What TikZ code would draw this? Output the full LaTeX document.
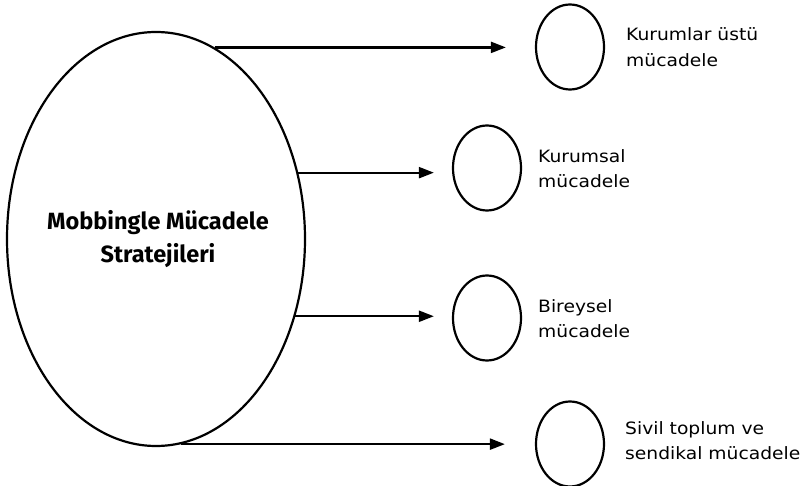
\documentclass[tikz,border=0pt]{standalone}
\usepackage{fontspec}
\setmainfont{Fira Sans}
\newfontfamily\lblfont[FakeStretch=1.1]{DejaVu Sans}
\usetikzlibrary{arrows.meta,shapes.geometric}
\tikzset{
  bigell/.style={ellipse,draw,line width=2.2pt,minimum width=298pt,minimum height=414pt,inner sep=0pt},
  smallell/.style={ellipse,draw,line width=2.2pt,minimum width=68pt,minimum height=85pt,inner sep=0pt},
  arr/.style={line width=2.2pt,-{Triangle[length=15pt,width=11pt]}},
  lbl/.style={anchor=base west,align=left,inner sep=0pt,font=\lblfont\fontsize{17}{25.5}\selectfont},
  title/.style={align=center,inner sep=0pt,font=\bfseries\fontsize{23.5}{33}\selectfont}
}
\begin{document}
\begin{tikzpicture}[x=1pt,y=-1pt]
\useasboundingbox (0,0) rectangle (804,486);
\node[bigell] (big) at (156,239) {};
\node[title,anchor=base] (t) at (158,263) {Mobbingle Mücadele\\Stratejileri};
\node[smallell] (k1) at (570,47) {};
\node[smallell] (k2) at (487,168) {};
\node[smallell] (k3) at (487,318) {};
\node[smallell] (k4) at (570,444) {};
\node[lbl] (l1) at (626,66.5) {Kurumlar üstü\\mücadele};
\node[lbl] (l2) at (538,188) {Kurumsal\\mücadele};
\node[lbl] (l3) at (538,338) {Bireysel\\mücadele};
\node[lbl] (l4) at (625,460) {Sivil toplum ve\\sendikal mücadele};
\draw[arr] (big.73.5) -- ([xshift=-29pt]big.73.5 -| k1.west);
\draw[arr] (big.25.75) -- ([xshift=-18pt]big.25.75 -| k2.west);
\draw[arr] (big.-29.8) -- ([xshift=-18pt]big.-29.8 -| k3.west);
\draw[arr] (big.-83) -- ([xshift=-30pt]big.-83 -| k4.west);
\end{tikzpicture}
\end{document}
